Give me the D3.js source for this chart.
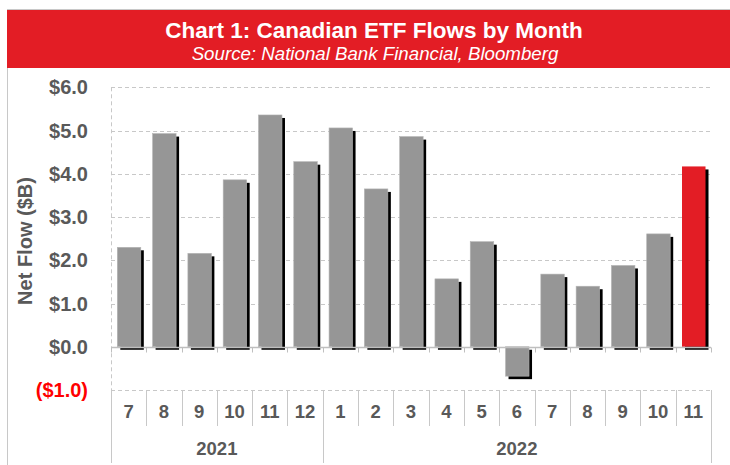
<!DOCTYPE html>
<html><head><meta charset="utf-8">
<script src="https://cdn.jsdelivr.net/npm/d3@7"></script>
<style>body{margin:0;background:#fff}svg{display:block;font-family:Arial,"Liberation Sans",sans-serif}</style>
</head><body><svg id="c" width="730" height="465"></svg>
<script>
const months = ["7","8","9","10","11","12","1","2","3","4","5","6","7","8","9","10","11"];
const years = [{label:"2021", start:0, end:6},{label:"2022", start:6, end:17}];
const values = [2.30,4.93,2.16,3.86,5.36,4.28,5.06,3.65,4.86,1.57,2.43,-0.68,1.68,1.40,1.88,2.61,4.17];
const yTicks = [-1,0,1,2,3,4,5,6];
const highlight = [16];

const svg = d3.select("#c");
const L=111, R=711, T=87.3, B=390;
const x = d3.scaleBand().domain(d3.range(months.length)).range([L,R]).padding(0);
const y = d3.scaleLinear().domain([-1,6]).range([B,T]);
const gray="#595959";

// outer frame
svg.append("rect").attr("x",7.5).attr("y",9.5).attr("width",740).attr("height",470).attr("fill","none").attr("stroke","#c8c8c8");
// title band
svg.append("rect").attr("x",7).attr("y",10).attr("width",723).attr("height",58).attr("fill","#e31d25");
svg.append("text").attr("x",374).attr("y",38).attr("text-anchor","middle").attr("fill","#fff").attr("font-weight","bold").attr("font-size",22.5).text("Chart 1: Canadian ETF Flows by Month");
svg.append("text").attr("x",375).attr("y",60).attr("text-anchor","middle").attr("fill","#fff").attr("font-style","italic").attr("font-size",18.7).text("Source: National Bank Financial, Bloomberg");

// gridlines
svg.append("g").selectAll("line").data(yTicks.filter(d=>d!==0)).join("line")
  .attr("x1",L).attr("x2",R).attr("y1",d=>Math.round(y(d))+0.5).attr("y2",d=>Math.round(y(d))+0.5)
  .attr("stroke","#c8c8c8").attr("stroke-dasharray","4,3");
svg.append("line").attr("x1",L+0.5).attr("x2",L+0.5).attr("y1",T).attr("y2",B).attr("stroke","#c8c8c8").attr("stroke-dasharray","4,3");

// y labels
svg.append("g").selectAll("text").data(yTicks).join("text")
  .attr("x",88).attr("y",d=>y(d)+7).attr("text-anchor","end").attr("font-weight","bold").attr("font-size",20)
  .attr("fill",d=>d<0?"#ff0000":gray)
  .text(d=>d<0?`($${Math.abs(d).toFixed(1)})`:`$${d.toFixed(1)}`);
svg.append("text").attr("transform","translate(32,241) rotate(-90)").attr("text-anchor","middle")
  .attr("font-weight","bold").attr("font-size",20).attr("fill",gray).text("Net Flow ($B)");

// bars
const bw=23.5, off=6.3, sh=3;
const g=svg.append("g");
g.selectAll("rect.s").data(values).join("rect").attr("class","s")
  .attr("x",(d,i)=>x(i)+off+sh).attr("width",bw)
  .attr("y",d=>Math.min(y(d),y(0))+sh).attr("height",d=>Math.abs(y(d)-y(0))).attr("fill","#000");
g.selectAll("rect.b").data(values).join("rect").attr("class","b")
  .attr("x",(d,i)=>x(i)+off).attr("width",bw)
  .attr("y",d=>Math.min(y(d),y(0))).attr("height",d=>Math.abs(y(d)-y(0)))
  .attr("fill",(d,i)=>highlight.includes(i)?"#e31d25":"#969696")
  .attr("stroke",(d,i)=>highlight.includes(i)?"none":"#b4b4b4").attr("stroke-width",0.6);

// zero axis with ticks
const y0=Math.round(y(0))+0.5;
svg.append("line").attr("x1",L).attr("x2",R).attr("y1",y0).attr("y2",y0).attr("stroke","#bfbfbf").attr("stroke-width",1.3);
svg.append("g").selectAll("line").data(d3.range(months.length+1)).join("line")
  .attr("x1",i=>Math.round(L+i*x.bandwidth())+0.5).attr("x2",i=>Math.round(L+i*x.bandwidth())+0.5)
  .attr("y1",y0).attr("y2",y0+5).attr("stroke","#bfbfbf");

// category separators
const yearBounds = new Set([0,6,17]);
svg.append("g").selectAll("line").data(d3.range(months.length+1)).join("line")
  .attr("x1",i=>Math.round(L+i*x.bandwidth())+0.5).attr("x2",i=>Math.round(L+i*x.bandwidth())+0.5)
  .attr("y1",B).attr("y2",i=>yearBounds.has(i)?463:426).attr("stroke","#c8c8c8");

svg.append("g").selectAll("text").data(months).join("text")
  .attr("x",(d,i)=>x(i)+x.bandwidth()/2).attr("y",418).attr("text-anchor","middle")
  .attr("font-weight","bold").attr("font-size",18.5).attr("fill",gray).text(d=>d);
svg.append("g").selectAll("text").data(years).join("text")
  .attr("x",d=>(x(d.start)+L+d.end*x.bandwidth())/2).attr("y",455).attr("text-anchor","middle")
  .attr("font-weight","bold").attr("font-size",18.5).attr("fill",gray).text(d=>d.label);
</script></body></html>
